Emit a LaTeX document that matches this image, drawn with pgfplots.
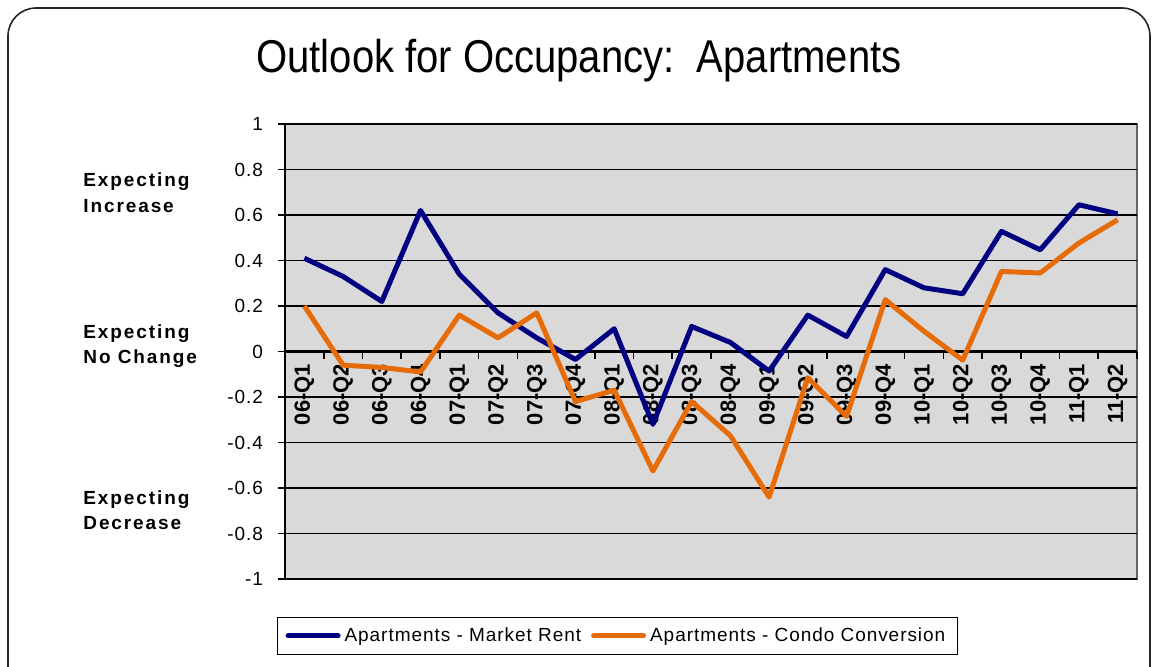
\documentclass[border=0pt]{standalone}
\usepackage{pgfplots}
\pgfplotsset{compat=1.18}
\usepackage{fontspec}
\setmainfont{Liberation Sans}
\newfontfamily\spaced[LetterSpace=10]{Liberation Sans}
\newfontfamily\lspaced[LetterSpace=5]{Liberation Sans}
\definecolor{navyline}{RGB}{0,0,128}
\definecolor{orangeline}{RGB}{230,108,10}
\definecolor{plotbg}{RGB}{217,217,217}

\pgfplotstableread{
x rent condo
0 0.41 0.20
1 0.33 -0.06
2 0.22 -0.07
3 0.62 -0.09
4 0.34 0.16
5 0.17 0.06
6 0.06 0.17
7 -0.035 -0.22
8 0.10 -0.17
9 -0.32 -0.525
10 0.11 -0.22
11 0.04 -0.37
12 -0.086 -0.64
13 0.16 -0.115
14 0.066 -0.285
15 0.36 0.228
16 0.28 0.089
17 0.254 -0.038
18 0.528 0.352
19 0.447 0.345
20 0.645 0.477
21 0.605 0.579
}\datatable

\begin{document}
\begin{tikzpicture}
\useasboundingbox (0,0) rectangle (577pt,333pt);
\draw[rounded corners=14pt, line width=0.8pt, black!85] (4pt,329pt) rectangle (575pt,-17pt);
\node[anchor=base, inner sep=0pt] at (289.5pt,297pt) {\fontsize{23}{27}\selectfont\scalebox{0.87}[1]{Outlook for Occupancy:\ \ Apartments}};

\tikzset{ann/.style={anchor=base west, inner sep=0pt, font=\spaced\bfseries\fontsize{9.5}{11}\selectfont}}
\node[ann] at (41.5pt,240pt) {Expecting};
\node[ann] at (41.5pt,227pt) {Increase};
\node[ann] at (41.5pt,164pt) {Expecting};
\node[ann] at (41.5pt,151.5pt) {No Change};
\node[ann] at (41.5pt,81pt) {Expecting};
\node[ann] at (41.5pt,68.5pt) {Decrease};

\begin{axis}[
  at={(142.5pt,43.5pt)}, anchor=south west,
  scale only axis, width=426pt, height=227.5pt,
  xmin=-0.5, xmax=21.5, ymin=-1, ymax=1,
  axis x line*=middle, axis y line*=left,
  axis background/.style={fill=plotbg, draw=gray!80!black, line width=0.6pt},
  x axis line style={line width=1.2pt, black},
  y axis line style={line width=1pt, black},
  xtick={0,...,21},
  xticklabels={06-Q1,06-Q2,06-Q3,06-Q4,07-Q1,07-Q2,07-Q3,07-Q4,08-Q1,08-Q2,08-Q3,08-Q4,09-Q1,09-Q2,09-Q3,09-Q4,10-Q1,10-Q2,10-Q3,10-Q4,11-Q1,11-Q2},
  major x tick style={draw=none},
  extra x ticks={-0.5,0.5,...,21.5},
  extra x tick labels={},
  extra x tick style={xmajorgrids=false, major tick length=3.5pt, tick align=outside, major x tick style={draw=black, line width=0.8pt}},
  xticklabel style={rotate=90, anchor=east, font=\bfseries\fontsize{11}{13}\selectfont, inner sep=1pt},
  xticklabel shift=5pt,
  ytick={-1,-0.8,-0.6,-0.4,-0.2,0,0.2,0.4,0.6,0.8,1},
  ymajorgrids=true,
  grid style={black, line width=0.6pt},
  ytick align=outside,
  major y tick style={black, line width=0.8pt},
  major tick length=3.5pt,
  yticklabel style={font=\lspaced\fontsize{9.5}{11}\selectfont, xshift=-4pt},
  /pgf/number format/.cd, fixed, precision=1, assume math mode=true,
  /pgfplots/.cd,
  legend columns=2,
  legend style={at={(-0.0094,-0.0835)}, anchor=north west, draw=black, line width=0.6pt,
    font=\lspaced\fontsize{9.5}{11}\selectfont, inner xsep=4pt, inner ysep=3pt,
    /tikz/every even column/.append style={column sep=3pt}},
  legend image code/.code={\draw[#1, line cap=round] (0pt,0pt) -- (25pt,0pt);},
]
\addplot[navyline, line width=2.5pt, line join=round] table[x=x, y=rent] {\datatable};
\addlegendentry{Apartments - Market Rent}
\addplot[orangeline, line width=2.5pt, line join=round] table[x=x, y=condo] {\datatable};
\addlegendentry{Apartments - Condo Conversion}
\end{axis}
\end{tikzpicture}
\end{document}
